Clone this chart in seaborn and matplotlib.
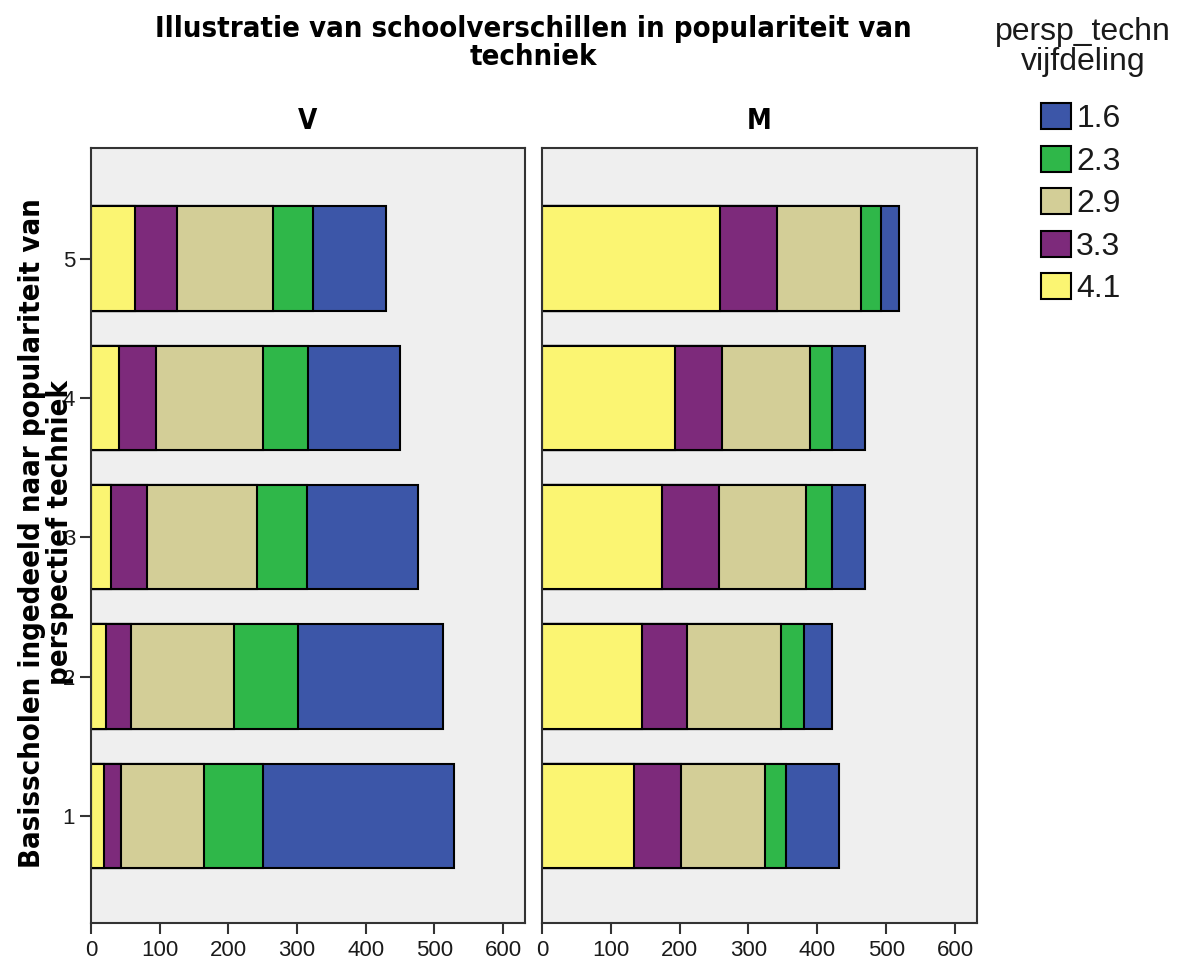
import pandas as pd
import matplotlib.pyplot as plt
import seaborn as sns
from matplotlib.patches import Patch

# school category (perspectief techniek), bottom to top
categories = ['1', '2', '3', '4', '5']
levels = ['4.1', '3.3', '2.9', '2.3', '1.6']   # stacking order, left to right
panels = ['V', 'M']

# counts per level, for categories 1..5
v_41 = [19, 22, 29, 41, 64]
v_33 = [24, 36, 53, 53, 61]
v_29 = [121, 150, 160, 157, 140]
v_23 = [87, 94, 72, 65, 59]
v_16 = [277, 210, 162, 134, 105]

m_41 = [133, 145, 175, 193, 259]
m_33 = [69, 65, 82, 68, 82]
m_29 = [122, 137, 127, 129, 123]
m_23 = [31, 34, 37, 32, 29]
m_16 = [76, 40, 49, 48, 25]

colors = {'4.1': '#fbf572', '3.3': '#7d2a7b', '2.9': '#d3ce97',
          '2.3': '#2fb749', '1.6': '#3c56a8'}

rows = []
for panel, series in [('V', [v_41, v_33, v_29, v_23, v_16]),
                      ('M', [m_41, m_33, m_29, m_23, m_16])]:
    for lev, vals in zip(levels, series):
        for cat, n in zip(categories, vals):
            rows.append({'panel': panel, 'cat': cat, 'level': lev, 'n': n})
df = pd.DataFrame(rows)
df['level'] = pd.Categorical(df['level'], levels, ordered=True)
df = df.sort_values(['panel', 'cat', 'level'])
df['cum'] = df.groupby(['panel', 'cat'])['n'].cumsum()

sns.set_theme(style='white')
plt.rcParams['font.family'] = ['Liberation Sans', 'DejaVu Sans']

fig = plt.figure(figsize=(11.8, 9.64), dpi=100)
ax1 = fig.add_axes([91/1180, 1-923/964, 434/1180, 775/964])
ax2 = fig.add_axes([542/1180, 1-923/964, 435/1180, 775/964])

bold = dict(family='DejaVu Sans', fontweight='bold', fontstretch='condensed',
            color='black')
order = categories[::-1]

for ax, panel in [(ax1, 'V'), (ax2, 'M')]:
    sub = df[df['panel'] == panel]
    # draw the longest cumulative layer first so shorter ones sit on top
    for lev in levels[::-1]:
        part = sub[sub['level'] == lev]
        sns.barplot(data=part, x='cum', y='cat', order=order, orient='h',
                    color=colors[lev], saturation=1, width=0.75,
                    edgecolor='black', linewidth=1.5, ax=ax)
    ax.set_facecolor('#efefef')
    ax.set_xlim(0, 632)
    ax.set_ylim(4.77, -0.795)
    ax.set_xticks([0, 100, 200, 300, 400, 500, 600])
    ax.set_xlabel('')
    ax.set_ylabel('')
    for s in ax.spines.values():
        s.set_color('#333333')
        s.set_linewidth(1.5)
    ax.tick_params(axis='x', bottom=True, length=8, width=1.5, color='#333333',
                   labelsize=16, labelcolor='#1a1a1a', pad=4)
    ax.set_title(panel, fontsize=20, pad=14, **bold)

ax1.tick_params(axis='y', left=True, length=8, width=1.5, color='#333333',
                labelsize=16, labelcolor='#1a1a1a')
ax2.tick_params(axis='y', left=False, labelleft=False)

fig.text(533/1180, 1-43/964, 'Illustratie van schoolverschillen in populariteit van\ntechniek',
         ha='center', va='center', fontsize=21, linespacing=1.0, **bold)
fig.text(46/1180, 1-533/964, 'Basisscholen ingedeeld naar populariteit van\nperspectief techniek',
         ha='center', va='center', rotation=90, fontsize=21, linespacing=1.0, **bold)

# legend title drawn separately to get the wider gap above the swatches
fig.text(1083/1180, 1-47/964, 'persp_techn\nvijfdeling', ha='center', va='center',
         fontsize=23, linespacing=1.0, color='#1a1a1a')
handles = [Patch(facecolor=colors[l], edgecolor='black', linewidth=1.5)
           for l in levels[::-1]]
fig.legend(handles, levels[::-1], loc='upper left',
           bbox_to_anchor=(1041/1180, 1-103/964), borderaxespad=0, borderpad=0,
           frameon=False, fontsize=23, labelcolor='#1a1a1a',
           handlelength=0.95, handleheight=0.88, handletextpad=0.15,
           labelspacing=0.36)

fig.savefig('out.png', dpi=100)
